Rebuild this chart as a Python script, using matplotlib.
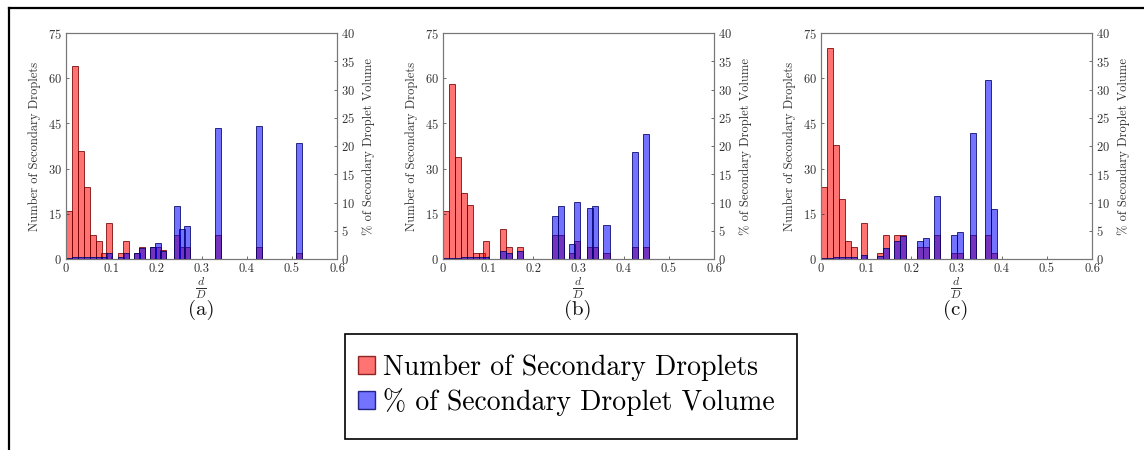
import matplotlib
matplotlib.use("Agg")
import matplotlib.pyplot as plt
from matplotlib.lines import Line2D
from matplotlib.patches import Patch, Rectangle

plt.rcParams["font.family"] = ["cmr10", "DejaVu Serif"]
plt.rcParams["mathtext.fontset"] = "cm"
plt.rcParams["axes.formatter.use_mathtext"] = True

# d/D bin centres, droplet counts and % of volume for each case
x_a = [0.0067, 0.020, 0.0335, 0.047, 0.060, 0.0735, 0.0835, 0.0955, 0.122, 0.1335,
       0.158, 0.169, 0.193, 0.2035, 0.215, 0.245, 0.2575, 0.2685, 0.3375, 0.4268, 0.516]
count_a = [16, 64, 36, 24, 8, 6, 2, 12, 2, 6, 2, 4, 4, 4, 3, 8, 4, 4, 8, 4, 2]
vol_a = [0.1, 0.3, 0.3, 0.4, 0.3, 0.3, 0.3, 1.0, 0.3, 1.0, 1.0, 2.0, 2.2, 2.8, 1.5,
         9.3, 5.3, 5.9, 23.2, 23.6, 20.5]

x_b = [0.0067, 0.020, 0.0335, 0.047, 0.060, 0.0735, 0.087, 0.0955, 0.133, 0.1455,
       0.171, 0.2475, 0.2605, 0.285, 0.2975, 0.325, 0.3375, 0.362, 0.425, 0.450]
count_b = [16, 58, 34, 22, 18, 2, 2, 6, 10, 4, 4, 8, 8, 2, 6, 4, 4, 2, 4, 4]
vol_b = [0.1, 0.2, 0.2, 0.3, 0.3, 0.3, 0.3, 0.3, 1.5, 1.0, 1.5, 7.7, 9.3, 2.7, 10.1,
         9.1, 9.3, 6.0, 18.9, 22.1]

x_c = [0.0067, 0.020, 0.0335, 0.047, 0.060, 0.0735, 0.0955, 0.131, 0.144, 0.169,
       0.182, 0.2195, 0.2325, 0.2565, 0.295, 0.3075, 0.3355, 0.370, 0.383]
count_c = [24, 70, 38, 20, 6, 4, 12, 2, 8, 8, 8, 4, 4, 8, 2, 2, 8, 8, 2]
vol_c = [0.1, 0.2, 0.3, 0.3, 0.3, 0.3, 0.8, 0.5, 1.9, 3.2, 4.0, 3.2, 3.7, 11.2,
         4.3, 4.8, 22.4, 31.7, 8.8]

panels = [("(a)", x_a, count_a, vol_a),
          ("(b)", x_b, count_b, vol_b),
          ("(c)", x_c, count_c, vol_c)]

count_ticks = [0, 15, 30, 45, 60, 75]
vol_ticks = [0, 5, 10, 15, 20, 25, 30, 35, 40]
x_ticks = [0, 0.1, 0.2, 0.3, 0.4, 0.5, 0.6]

red_fill = (1.0, 0.0, 0.0, 0.55)
red_edge = (0.45, 0.0, 0.0, 0.8)
blue_fill = (0.0, 0.0, 1.0, 0.55)
blue_edge = (0.0, 0.0, 0.4, 0.8)
txt = "#333333"
bw = 0.0133

fig = plt.figure(figsize=(11.44, 4.5), dpi=100)

lefts = [66, 443, 821]
for left, (tag, xs, counts, vols) in zip(lefts, panels):
    ax = fig.add_axes([left / 1144, 0.4244, 271 / 1144, 0.502])
    ax.bar(xs, counts, width=bw, color=red_fill, edgecolor=red_edge, linewidth=0.7)
    ax.set_xlim(0, 0.6)
    ax.set_ylim(0, 75)
    ax.set_xticks(x_ticks)
    ax.set_xticklabels(["0", "0.1", "0.2", "0.3", "0.4", "0.5", "0.6"])
    ax.set_yticks(count_ticks)
    ax.set_ylabel("Number of Secondary Droplets", fontsize=9, color=txt, labelpad=5)

    ax2 = ax.twinx()
    ax2.bar(xs, vols, width=bw, color=blue_fill, edgecolor=blue_edge, linewidth=0.7)
    ax2.set_ylim(0, 40)
    ax2.set_yticks(vol_ticks)
    ax2.set_ylabel("% of Secondary Droplet Volume", fontsize=9, color=txt, labelpad=5)

    for a in (ax, ax2):
        a.tick_params(direction="in", length=2.5, width=0.5, labelsize=9,
                      colors=txt, pad=3)
        for s in a.spines.values():
            s.set_color("#777777")
            s.set_linewidth(0.8)

    cx = (left + 135) / 1144
    fig.text(cx, 0.361, r"$\frac{d}{D}$", ha="center", va="center", fontsize=12, color=txt)
    fig.text(cx, 0.312, tag, ha="center", va="center", fontsize=15, color="#111111")

handles = [Patch(facecolor=red_fill, edgecolor=red_edge, linewidth=1.0),
           Patch(facecolor=blue_fill, edgecolor=blue_edge, linewidth=1.0)]
leg = fig.legend(handles, ["Number of Secondary Droplets", "% of Secondary Droplet Volume"],
                 loc="center", bbox_to_anchor=(0.495, 0.144), fontsize=20,
                 frameon=False, handlelength=0.6, handleheight=0.6,
                 handletextpad=0.3, borderpad=0.75, labelspacing=0.25,
                 borderaxespad=0)

# legend frame drawn separately to match the reference box
fig.add_artist(Rectangle((345 / 1144, 1 - 439 / 450), 452 / 1144, 105 / 450,
                         transform=fig.transFigure, fill=False,
                         edgecolor="black", linewidth=1.2))

# outer frame (left and top edges visible)
fig.add_artist(Line2D([0.0075, 0.0075], [0.0, 0.982], color="black", lw=1.6))
fig.add_artist(Line2D([0.0075, 1.0], [0.982, 0.982], color="black", lw=1.6))

fig.savefig("out.png", dpi=100)
